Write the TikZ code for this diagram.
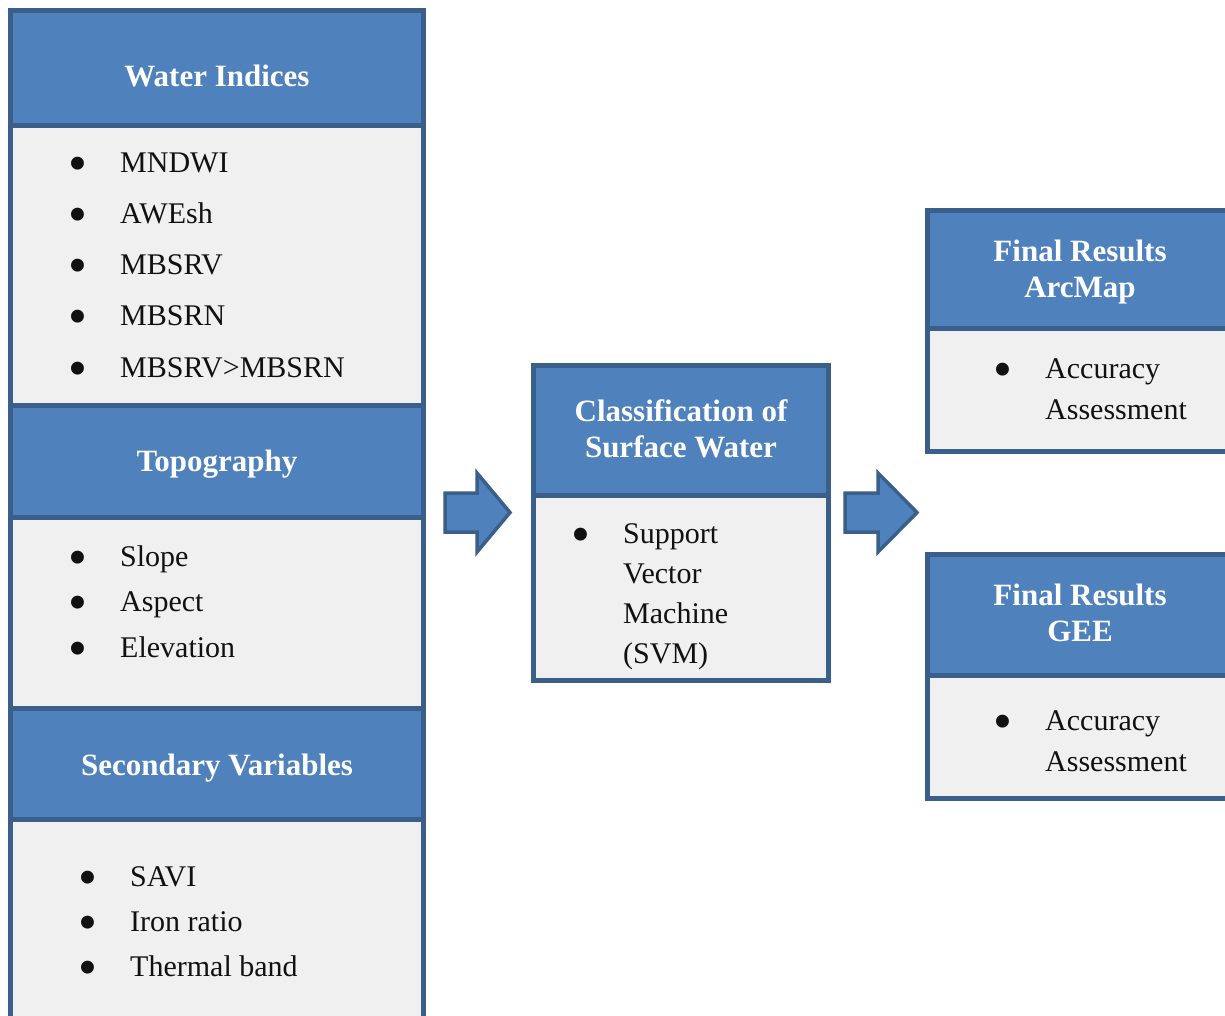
\documentclass[tikz,border=0pt]{standalone}
\usepackage{fontspec}
\setmainfont{Liberation Serif}
\usetikzlibrary{calc}
\definecolor{hdrblue}{HTML}{4F81BD}
\definecolor{edgeblue}{HTML}{3A5F8B}
\definecolor{bodygray}{HTML}{F0F0F0}
\definecolor{inktext}{HTML}{111111}
\newcommand\itm{\makebox[0pt][c]{\raisebox{-9pt}{\fontsize{54}{54}\selectfont •}}\hspace{42pt}}
\newcommand\ind{\hspace*{42pt}}
\begin{document}
\begin{tikzpicture}[x=1pt,y=-1pt,
  box/.style={draw=edgeblue, line width=5pt, anchor=north west, inner sep=0pt, outer sep=0pt},
  hdr/.style={box, fill=hdrblue},
  bdy/.style={box, fill=bodygray},
  htext/.style={text=white, font=\fontsize{31}{36}\selectfont\bfseries, align=center, anchor=base, inner sep=0pt},
  ltext/.style={text=inktext, align=left, anchor=base west, inner sep=0pt},
  barrow/.style={draw=edgeblue, fill=hdrblue, line width=3.5pt, line join=miter}]
\useasboundingbox (0,0) rectangle (1225,1015);
\clip (0,0) rectangle (1225,1015);

% left column
\node[hdr, minimum width=413, minimum height=115] (wih) at (10.5,10) {};
\node[bdy, minimum width=413, minimum height=280] (wib) at (10.5,125) {};
\node[hdr, minimum width=413, minimum height=112] (tph) at (10.5,405) {};
\node[bdy, minimum width=413, minimum height=191] (tpb) at (10.5,517) {};
\node[hdr, minimum width=413, minimum height=111] (svh) at (10.5,708) {};
\node[bdy, minimum width=413, minimum height=220] (svb) at (10.5,819) {};

% middle
\node[hdr, minimum width=295, minimum height=130] (csh) at (533,365) {};
\node[bdy, minimum width=295, minimum height=185] (csb) at (533,495) {};

% right
\node[hdr, minimum width=320, minimum height=118] (arh) at (927,210) {};
\node[bdy, minimum width=320, minimum height=123] (arb) at (927,328) {};
\node[hdr, minimum width=320, minimum height=121] (geh) at (927,554) {};
\node[bdy, minimum width=320, minimum height=123] (geb) at (927,675) {};

% headers (anchor = baseline of last line)
\node[htext] (wit) at (217,86) {Water Indices};
\node[htext] (tpt) at (217,471) {Topography};
\node[htext] (svt) at (217,775) {Secondary Variables};
\node[htext] (cst) at (681,457) {Classification of\\Surface Water};
\node[htext] (art) at (1080,297) {Final Results\\ArcMap};
\node[htext] (get) at (1080,641) {Final Results\\GEE};

% lists (anchor = baseline of last line)
\node[ltext, font=\fontsize{30}{51.25}\selectfont] (wil) at (78,377)
  {\itm MNDWI\\\itm AWEsh\\\itm MBSRV\\\itm MBSRN\\\itm MBSRV>MBSRN};
\node[ltext, font=\fontsize{30}{45.5}\selectfont] (tpl) at (78,657)
  {\itm Slope\\\itm Aspect\\\itm Elevation};
\node[ltext, font=\fontsize{30}{45}\selectfont] (svl) at (88,976)
  {\itm SAVI\\\itm Iron ratio\\\itm Thermal band};
\node[ltext, font=\fontsize{30}{40}\selectfont] (csl) at (581,663)
  {\itm Support\\\ind Vector\\\ind Machine\\\ind (SVM)};
\node[ltext, font=\fontsize{30}{41}\selectfont] (arl) at (1003,419)
  {\itm Accuracy\\\ind Assessment};
\node[ltext, font=\fontsize{30}{41}\selectfont] (gel) at (1003,771)
  {\itm Accuracy\\\ind Assessment};

% block arrows
\coordinate (a1s) at ($(wib.south east)+(21.5,107.5)$);
\coordinate (a2s) at ($(csb.north east)+(17,17.5)$);
\draw[barrow] (a1s) ++(0,-19.5) -- ++(32,0) -- ++(0,-20) -- ++(33,39.5)
  -- ++(-33,39.5) -- ++(0,-20) -- ++(-32,0) -- cycle;
\draw[barrow] (a2s) ++(0,-19.5) -- ++(33,0) -- ++(0,-20) -- ++(39,39.5)
  -- ++(-39,39.5) -- ++(0,-20) -- ++(-33,0) -- cycle;
\end{tikzpicture}
\end{document}
